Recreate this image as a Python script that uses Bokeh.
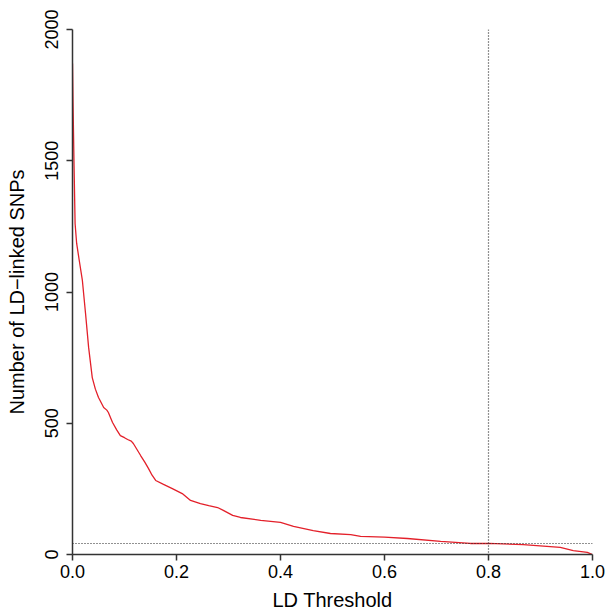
from bokeh.plotting import figure
from bokeh.models import Range1d, Span, FixedTicker, CustomJSTickFormatter
from bokeh.embed import file_html
from bokeh.resources import INLINE

# LD threshold (x) vs number of LD-linked SNPs (y)
ld_threshold = [0.0, 0.001, 0.003, 0.005, 0.008, 0.013, 0.019, 0.025, 0.031, 0.038,
                0.044, 0.05, 0.06, 0.066, 0.069, 0.077, 0.085, 0.092, 0.1, 0.106,
                0.113, 0.117, 0.124, 0.131, 0.139, 0.146, 0.153, 0.16, 0.175, 0.192,
                0.211, 0.227, 0.246, 0.262, 0.279, 0.29, 0.308, 0.323, 0.362, 0.40,
                0.425, 0.463, 0.496, 0.535, 0.554, 0.60, 0.644, 0.708, 0.765, 0.80,
                0.867, 0.938, 0.963, 0.99, 1.0]
n_snps = [1870, 1720, 1480, 1260, 1185, 1120, 1044, 920, 789, 674,
          630, 598, 560, 550, 541, 503, 475, 453, 445, 438,
          432, 423, 400, 377, 352, 328, 302, 282, 267, 251,
          232, 206, 194, 186, 179, 168, 149, 141, 130, 122,
          107, 91, 80, 76, 69, 66, 61, 50, 42, 42,
          38, 27, 15, 8, 0]

x_ticks = [0.0, 0.2, 0.4, 0.6, 0.8, 1.0]
y_ticks = [0, 500, 1000, 1500, 2000]
ld_cut = 0.8
snp_cut = 42

FONT = "Liberation Sans"

p = figure(width=606, height=615, output_backend="svg", toolbar_location=None,
           x_range=Range1d(0, 1), y_range=Range1d(0, 2000),
           min_border_left=72, min_border_right=14, min_border_top=29, min_border_bottom=61)
p.outline_line_color = None
p.grid.visible = False
p.background_fill_color = "white"
p.border_fill_color = "white"

p.line(ld_threshold, n_snps, line_color="#e3202a", line_width=1.3)

p.add_layout(Span(location=ld_cut, dimension="height", line_color="#222222",
                  line_dash="1 2", line_width=1.2))
p.add_layout(Span(location=snp_cut, dimension="width", line_color="#222222",
                  line_dash="1 2", line_width=1.2))

p.xaxis.ticker = FixedTicker(ticks=x_ticks)
p.yaxis.ticker = FixedTicker(ticks=y_ticks)
p.xaxis.axis_label = "LD Threshold"
p.yaxis.axis_label = "Number of LD\u2212linked SNPs"
p.yaxis.major_label_orientation = "vertical"
p.xaxis.formatter = CustomJSTickFormatter(code="return tick.toFixed(1);")

for ax in (p.xaxis, p.yaxis):
    ax.minor_tick_line_color = None
    ax.axis_line_color = "#333333"
    ax.axis_line_width = 1.5
    ax.major_tick_line_color = "#333333"
    ax.major_tick_line_width = 1.5
    ax.major_tick_in = 0
    ax.major_tick_out = 6
    ax.major_label_text_font = FONT
    ax.major_label_text_font_size = "18px"
    ax.major_label_text_color = "black"
    ax.axis_label_text_font = FONT
    ax.axis_label_text_font_size = "20px"
    ax.axis_label_text_font_style = "normal"
    ax.axis_label_text_color = "black"

p.xaxis.major_label_standoff = 4
p.xaxis.axis_label_standoff = 8
p.yaxis.major_label_standoff = 9
p.yaxis.axis_label_standoff = 14

open("out.html", "w").write(file_html(p, INLINE))
